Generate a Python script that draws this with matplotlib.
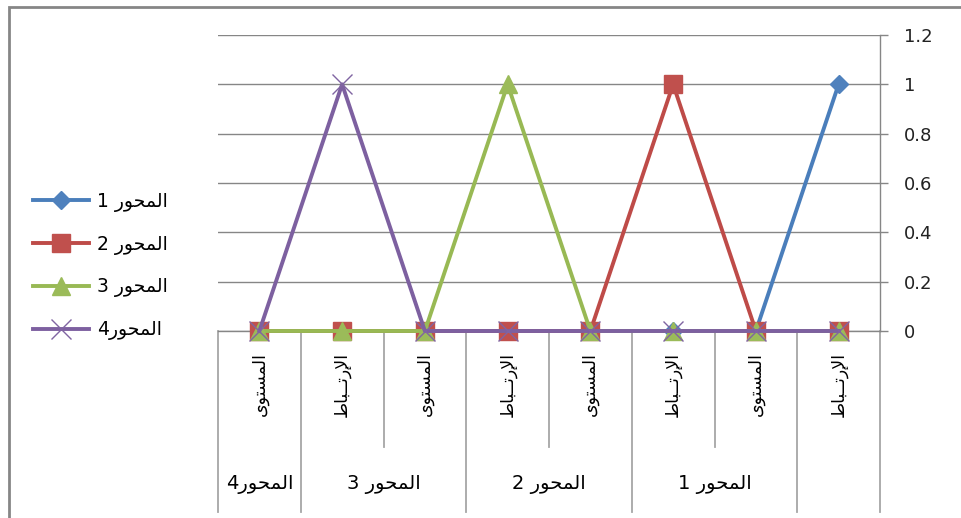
import numpy as np
import matplotlib
matplotlib.use('Agg')
import matplotlib.pyplot as plt
from matplotlib.patches import Rectangle

plt.rcParams['font.family'] = ['DejaVu Sans']

# level-1 category labels, first category is drawn on the right
categories = ['الإرتــباط', 'المستوى', 'الإرتــباط', 'المستوى',
              'الإرتــباط', 'المستوى', 'الإرتــباط', 'المستوى']
# level-2 groups: label, first and last category index
group_labels = ['', 'المحور 1', 'المحور 2', 'المحور 3', 'المحور4']
group_first = [0, 1, 3, 5, 7]
group_last = [0, 2, 4, 6, 7]

series_names = ['المحور 1', 'المحور 2', 'المحور 3', 'المحور4']
s1 = [1, 0, 0, 0, 0, 0, 0, 0]
s2 = [0, 0, 1, 0, 0, 0, 0, 0]
s3 = [0, 0, 0, 0, 1, 0, 0, 0]
s4 = [0, 0, 0, 0, 0, 0, 1, 0]
yticks = [0, 0.2, 0.4, 0.6, 0.8, 1, 1.2]

# matplotlib has no arabic shaping, so map letters to presentation forms
# (isolated, final, initial, medial) and lay them out right to left
FORMS = {
    'ا': ('\uFE8D', '\uFE8E', None, None),
    'إ': ('\uFE87', '\uFE88', None, None),
    'ب': ('\uFE8F', '\uFE90', '\uFE91', '\uFE92'),
    'ت': ('\uFE95', '\uFE96', '\uFE97', '\uFE98'),
    'ح': ('\uFEA1', '\uFEA2', '\uFEA3', '\uFEA4'),
    'ر': ('\uFEAD', '\uFEAE', None, None),
    'س': ('\uFEB1', '\uFEB2', '\uFEB3', '\uFEB4'),
    'ط': ('\uFEC1', '\uFEC2', '\uFEC3', '\uFEC4'),
    'ل': ('\uFEDD', '\uFEDE', '\uFEDF', '\uFEE0'),
    'م': ('\uFEE1', '\uFEE2', '\uFEE3', '\uFEE4'),
    'و': ('\uFEED', '\uFEEE', None, None),
    'ى': ('\uFEEF', '\uFEF0', None, None),
    'ـ': ('ـ', 'ـ', 'ـ', 'ـ'),
    'لإ': ('\uFEF9', '\uFEFA', None, None),
    'لا': ('\uFEFB', '\uFEFC', None, None),
}


def shape_word(word):
    toks = []
    i = 0
    while i < len(word):
        if word[i] == 'ل' and i + 1 < len(word) and word[i + 1] in 'اإ':
            toks.append(word[i:i + 2])
            i += 2
        else:
            toks.append(word[i])
            i += 1
    out = []
    for j, t in enumerate(toks):
        f = FORMS[t]
        prev = j > 0 and FORMS[toks[j - 1]][2] is not None
        nxt = f[2] is not None and j + 1 < len(toks)
        if prev and nxt:
            out.append(f[3])
        elif prev:
            out.append(f[1])
        elif nxt:
            out.append(f[2])
        else:
            out.append(f[0])
    return ''.join(reversed(out))


def ar_token(tok):
    runs = []
    cur = ''
    for ch in tok:
        if cur and (cur[0] in FORMS) != (ch in FORMS):
            runs.append(cur)
            cur = ''
        cur += ch
    runs.append(cur)
    runs = [shape_word(r) if r[0] in FORMS else r for r in runs]
    return ''.join(reversed(runs))


def ar(text):
    return ' '.join(reversed([ar_token(w) for w in text.split(' ')]))


W, H = 962, 518
fig = plt.figure(figsize=(W / 100, H / 100), dpi=100)
ax = fig.add_axes([218 / W, 1 - 331 / H, 662 / W, 296 / H])

x = np.arange(len(categories))
styles = [
    dict(color='#4A7EBB', marker='D', ms=9, mfc='#4F81BD', mec='#4F81BD'),
    dict(color='#BE4B48', marker='s', ms=13, mfc='#C0504D', mec='#C0504D'),
    dict(color='#98B954', marker='^', ms=13, mfc='#9BBB59', mec='#9BBB59'),
    dict(color='#7D60A0', marker='x', ms=14, mfc='#8064A2', mec='#8064A2', mew=1),
]
for name, vals, st in zip(series_names, [s1, s2, s3, s4], styles):
    ax.plot(x, vals, lw=2.8, label=ar(name), clip_on=False, zorder=3, **st)

ax.set_xlim(7.5, -0.5)
ax.set_ylim(0, 1.2)
ax.set_yticks(yticks)
ax.set_yticklabels(['0', '0.2', '0.4', '0.6', '0.8', '1', '1.2'])
ax.yaxis.tick_right()
ax.tick_params(axis='y', length=6, width=1, color='#868686', pad=11,
               labelsize=13, labelcolor='#222222')
ax.set_xticks([])
ax.grid(axis='y', color='#868686', lw=1)
for side in ['left', 'top']:
    ax.spines[side].set_visible(False)
for side in ['right', 'bottom']:
    ax.spines[side].set_color('#868686')
    ax.spines[side].set_linewidth(1)

# multi-level category axis
tr = ax.get_xaxis_transform()
full = -(512 - 331) / 296
short = -(447 - 331) / 296
edges = sorted(set([g - 0.5 for g in group_first] + [g + 0.5 for g in group_last]))
for b in np.arange(-0.5, len(categories), 1.0):
    y0 = full if b in edges else short
    ax.plot([b, b], [0, y0], transform=tr, color='#A6A6A6', lw=1.3, clip_on=False)

for i, c in enumerate(categories):
    ax.text(i, -(352 - 331) / 296, ar(c), transform=tr, rotation=90,
            ha='center', va='top', fontsize=12.5, color='black')

for lab, a, b in zip(group_labels, group_first, group_last):
    if lab:
        ax.text((a + b) / 2, -(485 - 331) / 296, ar(lab), transform=tr,
                ha='center', va='center', fontsize=14, color='black')

fig.legend(loc='center left', bbox_to_anchor=(33 / W, 1 - 266 / H),
           frameon=False, fontsize=13.5, handlelength=3.0, handletextpad=0.4,
           labelspacing=1.22, borderpad=0, borderaxespad=0, numpoints=1)

fig.add_artist(Rectangle((9 / W, -0.1), 1.2, 1 - 7 / H + 0.1,
                         transform=fig.transFigure, fill=False,
                         ec='#868686', lw=2))

fig.savefig('out.png', dpi=100)
